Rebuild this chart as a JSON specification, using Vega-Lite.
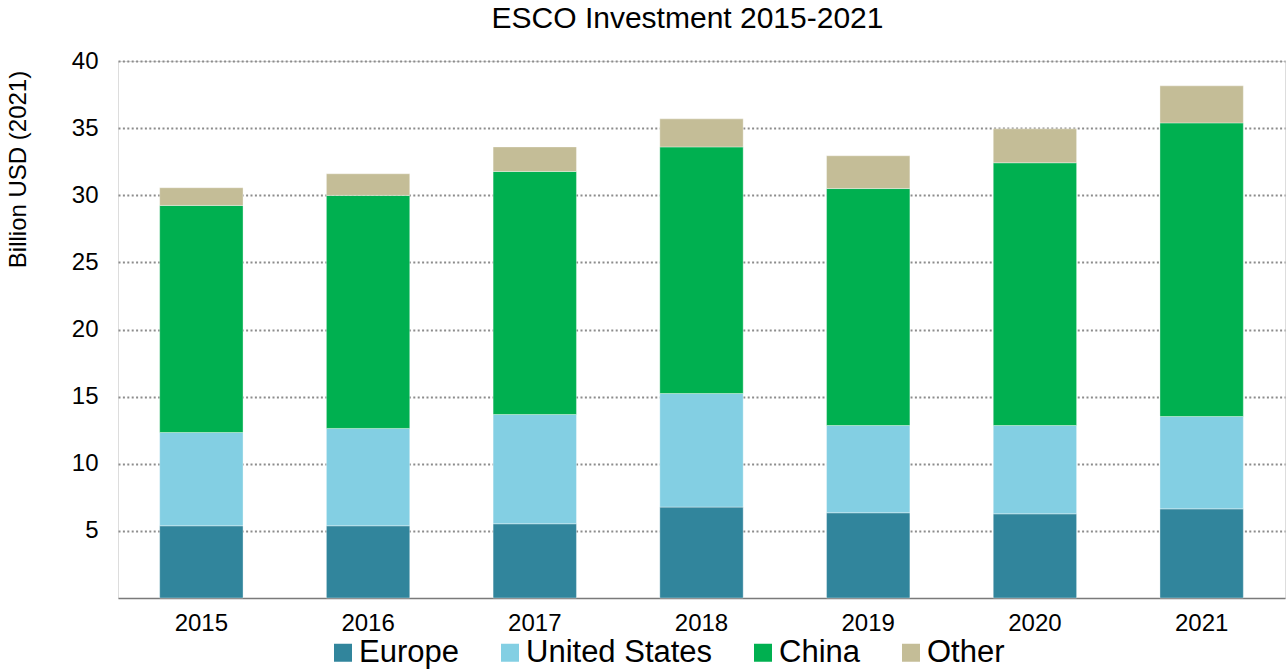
{
  "$schema": "https://vega.github.io/schema/vega-lite/v6.json",
  "width": 1167,
  "height": 537,
  "autosize": {"type": "none"},
  "padding": {"left": 118, "top": 61, "right": 1, "bottom": 71},
  "background": "white",
  "title": {
    "text": "ESCO Investment 2015-2021",
    "font": "Liberation Sans",
    "fontSize": 30,
    "fontWeight": "normal",
    "color": "#000000",
    "anchor": "middle",
    "baseline": "alphabetic",
    "offset": 14,
    "dx": -14,
    "dy": 23
  },
  "data": {
    "values": [
      {"year": "2015", "region": "Europe", "value": 5.38},
      {"year": "2015", "region": "United States", "value": 6.95},
      {"year": "2015", "region": "China", "value": 16.91},
      {"year": "2015", "region": "Other", "value": 1.32},
      {"year": "2016", "region": "Europe", "value": 5.38},
      {"year": "2016", "region": "United States", "value": 7.25},
      {"year": "2016", "region": "China", "value": 17.36},
      {"year": "2016", "region": "Other", "value": 1.61},
      {"year": "2017", "region": "Europe", "value": 5.53},
      {"year": "2017", "region": "United States", "value": 8.14},
      {"year": "2017", "region": "China", "value": 18.10},
      {"year": "2017", "region": "Other", "value": 1.83},
      {"year": "2018", "region": "Europe", "value": 6.77},
      {"year": "2018", "region": "United States", "value": 8.46},
      {"year": "2018", "region": "China", "value": 18.37},
      {"year": "2018", "region": "Other", "value": 2.09},
      {"year": "2019", "region": "Europe", "value": 6.35},
      {"year": "2019", "region": "United States", "value": 6.50},
      {"year": "2019", "region": "China", "value": 17.65},
      {"year": "2019", "region": "Other", "value": 2.44},
      {"year": "2020", "region": "Europe", "value": 6.27},
      {"year": "2020", "region": "United States", "value": 6.58},
      {"year": "2020", "region": "China", "value": 19.57},
      {"year": "2020", "region": "Other", "value": 2.53},
      {"year": "2021", "region": "Europe", "value": 6.64},
      {"year": "2021", "region": "United States", "value": 6.88},
      {"year": "2021", "region": "China", "value": 21.87},
      {"year": "2021", "region": "Other", "value": 2.76}
    ]
  },
  "transform": [
    {"calculate": "indexof(['Europe','United States','China','Other'], datum.region)", "as": "stackOrder"}
  ],
  "mark": {"type": "bar", "stroke": "#ffffff", "strokeWidth": 0.6, "strokeOpacity": 0.6},
  "encoding": {
    "x": {
      "field": "year",
      "type": "ordinal",
      "scale": {"paddingInner": 0.5, "paddingOuter": 0.25},
      "axis": {
        "title": null,
        "labelAngle": 0,
        "labelFont": "Liberation Sans",
        "labelFontSize": 24,
        "labelColor": "#000000",
        "labelPadding": 13,
        "ticks": false,
        "tickSize": 0,
        "grid": false,
        "domainColor": "#7a7a7a",
        "domainWidth": 1.6
      }
    },
    "y": {
      "field": "value",
      "type": "quantitative",
      "stack": "zero",
      "scale": {"domain": [0, 40], "nice": false, "zero": true},
      "axis": {
        "title": "Billion USD (2021)",
        "titleFont": "Liberation Sans",
        "titleFontSize": 24,
        "titleFontWeight": "normal",
        "titleColor": "#000000",
        "titleAngle": -90,
        "titleAlign": "center",
        "titleBaseline": "alphabetic",
        "titleX": -93,
        "titleY": 108,
        "values": [5, 10, 15, 20, 25, 30, 35, 40],
        "labelFont": "Liberation Sans",
        "labelFontSize": 24,
        "labelColor": "#000000",
        "labelPadding": 20,
        "ticks": false,
        "tickSize": 0,
        "domain": false,
        "grid": true,
        "gridColor": "#8c8c8c",
        "gridWidth": 2,
        "gridDash": [2, 2.4]
      }
    },
    "color": {
      "field": "region",
      "type": "nominal",
      "scale": {
        "domain": ["Europe", "United States", "China", "Other"],
        "range": ["#31859C", "#83CFE3", "#00B050", "#C4BD97"]
      },
      "legend": {
        "title": null,
        "orient": "none",
        "direction": "horizontal",
        "columns": 4,
        "legendX": 209.5,
        "legendY": 576,
        "padding": 0,
        "symbolType": "square",
        "symbolSize": 324,
        "symbolStrokeWidth": 0,
        "symbolOpacity": 1,
        "labelFont": "Liberation Sans",
        "labelFontSize": 31,
        "labelColor": "#000000",
        "labelOffset": 0.5,
        "labelLimit": 400,
        "columnPadding": 35
      }
    },
    "order": {"field": "stackOrder", "type": "quantitative"}
  }
}
